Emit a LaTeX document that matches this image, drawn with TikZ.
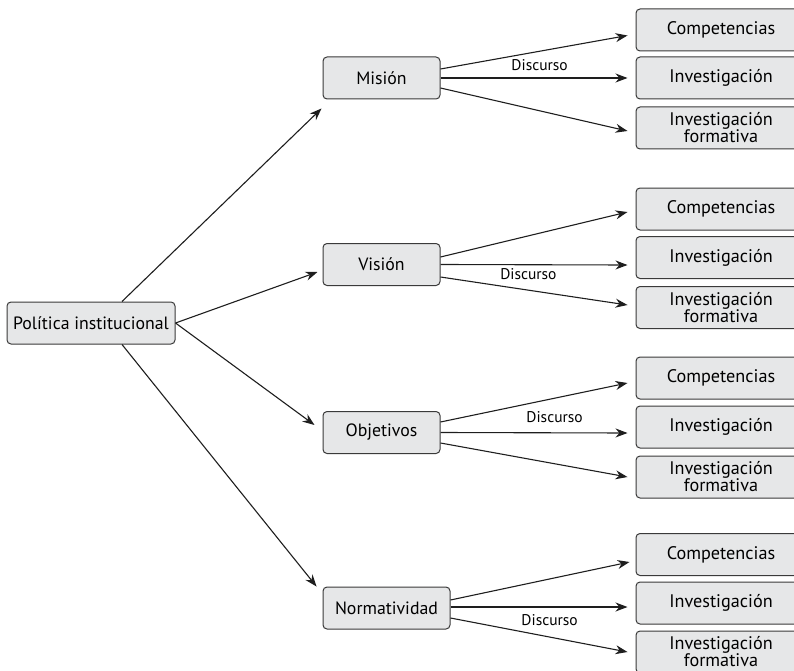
\documentclass[tikz,border=0pt]{standalone}
\usepackage{fontspec}
\setmainfont{PT Sans}
\usetikzlibrary{arrows.meta,calc}

\definecolor{boxfill}{HTML}{E6E7E8}
\definecolor{boxline}{HTML}{3A3A3A}
\definecolor{inkline}{HTML}{1E1E1E}

\tikzset{
  box/.style={draw=boxline, fill=boxfill, line width=1pt, rounded corners=4pt,
    minimum height=42pt, inner sep=0pt, align=center, font=\fontsize{17.8}{18}\selectfont},
  midbox/.style={box, minimum width=117pt},
  leafbox/.style={box, minimum width=170pt, font=\fontsize{18.2}{17}\selectfont},
  link/.style={draw=inkline, line width=1.1pt, -{Stealth[length=12pt,width=9pt]}},
  tag/.style={font=\fontsize{15.5}{16}\selectfont, inner sep=0pt}
}

\begin{document}
\begin{tikzpicture}[x=1pt,y=-1pt]
\useasboundingbox (0,0) rectangle (794,671);

% root
\node[box, minimum width=168pt] (pol) at (91,323) {Política institucional};

% second level
\node[midbox] (mis) at (381.5,78) {Misión};
\node[midbox] (vis) at (381.5,264.5) {Visión};
\node[midbox] (obj) at (381.5,432.5) {Objetivos};
\node[box, minimum width=127pt] (nor) at (386.5,608) {Normatividad};

% leaves
\node[leafbox] (c1) at (721,30) {Competencias};
\node[leafbox] (i1) at (721,78) {Investigación};
\node[leafbox] (f1) at (721,128) {Investigación\\formativa};

\node[leafbox] (c2) at (721,209) {Competencias};
\node[leafbox] (i2) at (721,257.5) {Investigación};
\node[leafbox] (f2) at (721,307.5) {Investigación\\formativa};

\node[leafbox] (c3) at (721,378) {Competencias};
\node[leafbox] (i3) at (721,427) {Investigación};
\node[leafbox] (f3) at (721,477) {Investigación\\formativa};

\node[leafbox] (c4) at (721,554.5) {Competencias};
\node[leafbox] (i4) at (721,603) {Investigación};
\node[leafbox] (f4) at (721,652) {Investigación\\formativa};

% root to second level
\draw[link] ([xshift=31pt]pol.north) -- ([xshift=-1pt,yshift=-9pt]mis.south west);
\draw[link] (pol.east) -- ([xshift=-5pt,yshift=-7.5pt]vis.west);
\draw[link] (pol.east) -- ([xshift=-8pt,yshift=7.5pt]obj.west);
\draw[link] ([xshift=31pt]pol.south) -- ([xshift=-6pt]nor.north west);

% Misión
\draw[link] ([yshift=9pt]mis.east) -- ([xshift=-8pt,yshift=-5.5pt]c1.west);
\draw[link] (mis.east) -- node[tag, above=6.5pt, pos=0.53] {Discurso} ([xshift=-8pt]i1.west);
\draw[link] ([yshift=-10pt]mis.east) -- ([xshift=-8pt,yshift=-3pt]f1.west);

% Visión
\draw[link] ([yshift=7.5pt]vis.east) -- ([xshift=-8pt,yshift=-3pt]c2.west);
\draw[link] (vis.east) -- node[tag, below=3.5pt, pos=0.47] {Discurso} ([xshift=-8pt,yshift=-7.5pt]i2.west);
\draw[link] ([yshift=-12.5pt]vis.east) -- ([xshift=-8pt,yshift=2.5pt]f2.west);

% Objetivos
\draw[link] ([yshift=10.5pt]obj.east) -- ([xshift=-8pt,yshift=-5pt]c3.west);
\draw[link] (obj.east) -- node[tag, above=9.5pt, pos=0.61] {Discurso} ([xshift=-8pt,yshift=-6pt]i3.west);
\draw[link] ([yshift=-10.5pt]obj.east) -- ([xshift=-8pt]f3.west);

% Normatividad
\draw[link] ([yshift=8pt]nor.east) -- ([xshift=-6pt,yshift=-7.5pt]c4.west);
\draw[link] ([yshift=1pt]nor.east) -- node[tag, below=6.5pt, pos=0.56] {Discurso} ([xshift=-8pt,yshift=-4pt]i4.west);
\draw[link] ([yshift=-10pt]nor.east) -- ([xshift=-8pt]f4.west);
\end{tikzpicture}
\end{document}
